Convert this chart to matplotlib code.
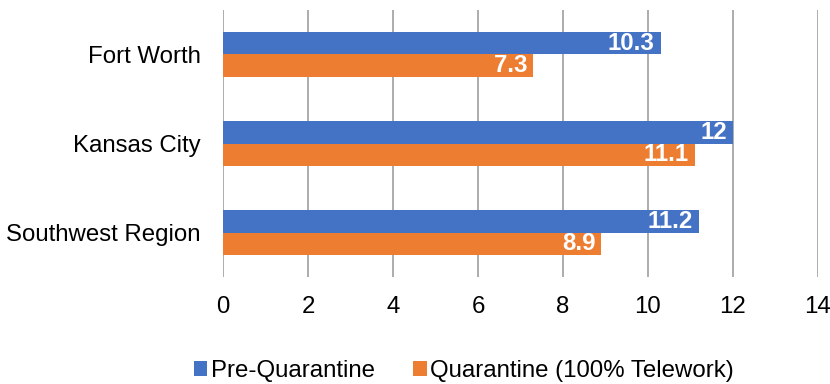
import matplotlib.pyplot as plt
import numpy as np

plt.rcParams['font.family'] = ['Liberation Sans', 'DejaVu Sans']

regions = ["Fort Worth", "Kansas City", "Southwest Region"]
pre_quarantine = [10.3, 12, 11.2]
quarantine = [7.3, 11.1, 8.9]
value_labels_pre = ["10.3", "12", "11.2"]
value_labels_q = ["7.3", "11.1", "8.9"]

blue = "#4472c4"
orange = "#ed7d31"
fs = 17.3

fig = plt.figure(figsize=(8.3, 3.84), dpi=100)
ax = fig.add_axes([0.2687, 0.2786, 0.7168, 0.6954])

y = np.arange(len(regions))
h = 0.253
b1 = ax.barh(y - h / 2, pre_quarantine, height=h, color=blue, label="Pre-Quarantine", zorder=3)
b2 = ax.barh(y + h / 2, quarantine, height=h, color=orange, label="Quarantine (100% Telework)", zorder=3)

for bars, labels in ((b1, value_labels_pre), (b2, value_labels_q)):
    for bar, txt in zip(bars, labels):
        ax.annotate(txt, (bar.get_width(), bar.get_y() + bar.get_height() / 2),
                    xytext=(-4.3, 0), textcoords="offset points", ha="right", va="center",
                    color="white", fontsize=fs, fontweight="bold", zorder=4)

ax.set_xlim(0, 14)
ax.set_ylim(2.5, -0.5)
ax.set_xticks(range(0, 15, 2))
ax.set_yticks(y)
ax.set_yticklabels(regions)
ax.tick_params(axis="both", length=0, labelsize=fs, colors="black")
ax.tick_params(axis="x", pad=14)
ax.tick_params(axis="y", pad=16)
ax.grid(axis="x", color="#a6a6a6", linewidth=1.3, zorder=0)
for s in ax.spines.values():
    s.set_visible(False)

fig.legend(handles=[b1, b2], loc="center", bbox_to_anchor=(0.559, 0.034), ncol=2,
           frameon=False, fontsize=fs, handlelength=0.55, handleheight=0.55,
           handletextpad=0.15, columnspacing=1.6)

fig.savefig("out.png", dpi=100)
